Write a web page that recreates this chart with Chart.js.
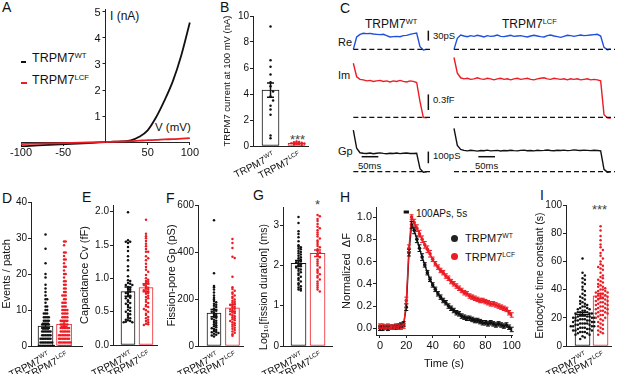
<!DOCTYPE html>
<html>
<head>
<meta charset="utf-8">
<title>TRPM7 figure</title>
<script src="https://cdn.jsdelivr.net/npm/chart.js@4.4.1/dist/chart.umd.min.js"></script>
<style>
  html, body { margin: 0; padding: 0; background: #fff; }
  #fig { position: relative; width: 617px; height: 374px; overflow: hidden;
         font-family: 'Liberation Sans', Arial, Helvetica, sans-serif; color: #111; }
  #fig canvas { position: absolute; }
  .t { position: absolute; white-space: nowrap; line-height: 1; }
  .t sup { font-size: 62%; line-height: 0; position: relative; top: -0.55em; vertical-align: baseline; }
  .p { font-size: 14px; }
  .mk { position: absolute; }
</style>
</head>
<body>
<div id="fig">
  <!-- panel letters -->
  <div class="t p" style="left:2px;top:0px">A</div>
  <div class="t p" style="left:220px;top:0px">B</div>
  <div class="t p" style="left:340px;top:1px">C</div>
  <div class="t p" style="left:2px;top:191px">D</div>
  <div class="t p" style="left:82px;top:190px">E</div>
  <div class="t p" style="left:166px;top:191px">F</div>
  <div class="t p" style="left:253px;top:188px">G</div>
  <div class="t p" style="left:340px;top:190px">H</div>
  <div class="t p" style="left:540px;top:188px">I</div>

  <!-- A labels and legend -->
  <div class="t" style="left:110px;top:10px;font-size:12px">I (nA)</div>
  <div class="t" style="left:155px;top:122px;font-size:11.5px">V (mV)</div>
  <div class="mk" style="left:21px;top:61px;width:5px;height:2px;background:#111"></div>
  <div class="t" style="left:32px;top:52px;font-size:12.5px">TRPM7<sup>WT</sup></div>
  <div class="mk" style="left:21px;top:82px;width:6px;height:2px;background:#ec1c24"></div>
  <div class="t" style="left:32px;top:74px;font-size:12.5px">TRPM7<sup>LCF</sup></div>

  <!-- B / G / I significance -->
  <div class="t" style="left:290px;top:133px;font-size:13px;color:#444">***</div>
  <div class="t" style="left:315px;top:198px;font-size:13px;color:#444">*</div>
  <div class="t" style="left:592px;top:203px;font-size:13px;color:#444">***</div>

  <!-- C labels -->
  <div class="t" style="left:365px;top:18px;font-size:12px">TRPM7<sup>WT</sup></div>
  <div class="t" style="left:502px;top:18px;font-size:12px">TRPM7<sup>LCF</sup></div>
  <div class="t" style="left:338px;top:37px;font-size:11px">Re</div>
  <div class="t" style="left:338px;top:70px;font-size:11px">Im</div>
  <div class="t" style="left:338px;top:146px;font-size:11px">Gp</div>
  <div class="t" style="left:433px;top:31px;font-size:9.5px">30pS</div>
  <div class="t" style="left:433px;top:95px;font-size:9.5px">0.3fF</div>
  <div class="t" style="left:433px;top:151px;font-size:9.5px">100pS</div>
  <div class="t" style="left:358px;top:161px;font-size:9.5px">50ms</div>
  <div class="t" style="left:475px;top:161px;font-size:9.5px">50ms</div>

  <!-- H legend -->
  <div class="t" style="left:416px;top:209px;font-size:10px">100APs, 5s</div>
  <div class="mk" style="left:451px;top:235px;width:7px;height:7px;border-radius:50%;background:#222"></div>
  <div class="t" style="left:465px;top:233px;font-size:11px">TRPM7<sup>WT</sup></div>
  <div class="mk" style="left:451px;top:253px;width:7px;height:7px;border-radius:50%;background:#ec1c24"></div>
  <div class="t" style="left:465px;top:252px;font-size:11px">TRPM7<sup>LCF</sup></div>
</div>

<script>
const FONT = "'Liberation Sans', Arial, Helvetica, sans-serif";
const INK = '#111111', RED = '#ec1c24', BLUE = '#1f4fdf', AXIS = '#222222';

// A: current-voltage relation (nA vs mV)
const aVolt = [-100, -80, -60, -40, -20, 0, 10, 20, 30, 40, 50, 60, 70, 80, 90, 100];
const aWT = [-0.17, -0.13, -0.1, -0.07, -0.04, 0, 0.01, 0.02, 0.06, 0.2, 0.45, 0.95, 1.6, 2.35, 3.35, 4.6];
const aLCF = [-0.08, -0.06, -0.05, -0.03, -0.02, 0, 0.01, 0.02, 0.03, 0.05, 0.07, 0.08, 0.1, 0.11, 0.13, 0.15];
const aXTicksNeg = [-100, -50];
const aXTicksPos = [50, 100];
const aYTicks = [1, 2, 3, 4, 5];

// B: current at 100 mV (nA)
const bWT = [9.2, 6.6, 6.1, 5.5, 4.9, 4.6, 4.2, 3.8, 3.5, 3.1, 2.8, 2.4, 0.8, 0.6];
const bLCF = [0.35, 0.3, 0.28, 0.25, 0.22, 0.2, 0.18, 0.15, 0.12, 0.1];
const bMean = [4.3, 0.2];
const bSem = [0.55, 0.04];
const bTicks = [0, 2, 4, 6, 8, 10];

// C: cell-attached traces, 10 ms per sample (Re, Gp in pS; Im in fF)
const C_DT = 10;
const reWT = [0, 37, 45, 48, 47, 48, 46, 45, 44, 45, 41, 37, 38, 39, 38, 41, 42, 45, 47, 49, 8, -2, 0];
const reLCF = [0, 33, 43, 40, 38, 41, 39, 42, 40, 37, 41, 39, 40, 43, 39, 38, 40, 42, 39, 40, 41, 39, 37, 40,
  42, 40, 38, 37, 41, 43, 40, 38, 36, 39, 42, 41, 39, 41, 43, 41, 42, 43, 44, 45, 40, 6, -1, 1];
const imWT = [1.04, 0.78, 0.73, 0.72, 0.7, 0.71, 0.69, 0.7, 0.71, 0.69, 0.7, 0.68, 0.7, 0.69, 0.71, 0.69,
  0.68, 0.7, 0.69, 0.67, 0.3, 0.0, -0.01];
const imLCF = [1.15, 0.85, 0.76, 0.74, 0.75, 0.73, 0.74, 0.76, 0.74, 0.73, 0.75, 0.74, 0.72, 0.74, 0.75, 0.73,
  0.74, 0.72, 0.74, 0.75, 0.73, 0.74, 0.75, 0.73, 0.72, 0.74, 0.75, 0.76, 0.74, 0.73, 0.75, 0.74, 0.73, 0.74,
  0.72, 0.74, 0.73, 0.74, 0.72, 0.73, 0.74, 0.72, 0.73, 0.72, 0.7, 0.05, -0.01, -0.02];
const gpWT = [355, 200, 162, 158, 156, 160, 154, 158, 161, 156, 153, 158, 156, 159, 154, 157, 160, 155, 156, 158, 25, -4, 0];
const gpLCF = [370, 225, 190, 182, 178, 183, 180, 176, 181, 179, 184, 178, 180, 182, 177, 181, 179, 183, 180, 178,
  182, 184, 179, 181, 178, 183, 180, 182, 185, 181, 179, 183, 181, 184, 180, 182, 186, 183, 181, 184,
  182, 180, 183, 181, 178, 20, -4, 0];
const cScaleBars = [30, 0.3, 100];   // pS, fF, pS
const cTimeBar = 50;                 // ms

// D: events per patch
const dWT = [31, 27, 23, 20, 19, 17, 16, 15, 14, 13, 13, 12, 11, 11, 10, 10, 9, 9, 9, 8, 8, 8, 8, 7, 7, 7, 7,
  6, 6, 6, 6, 6, 5, 5, 5, 5, 5, 4, 4, 4, 4, 4, 4, 3, 3, 3, 3, 3, 3, 2, 2, 2, 2, 2, 2, 2, 1, 1, 1, 1, 1, 1, 1, 1,
  0, 0, 0, 0, 0, 0, 0, 0, 0, 0];
const dLCF = [29, 29, 28, 26, 26, 25, 24, 24, 23, 22, 22, 21, 20, 20, 19, 18, 18, 17, 17, 16, 16, 15, 15, 14, 14,
  14, 13, 13, 12, 12, 12, 11, 11, 11, 10, 10, 10, 10, 9, 9, 9, 9, 8, 8, 8, 8, 7, 7, 7, 7, 7, 6, 6, 6, 6, 6,
  5, 5, 5, 5, 5, 5, 4, 4, 4, 4, 4, 4, 3, 3, 3, 3, 3, 3, 3, 2, 2, 2, 2, 2, 2, 2, 1, 1, 1, 1, 1, 1, 1, 1,
  0, 0, 0, 0, 0, 0, 0, 0];
const dMean = [5.5, 6.1];
const dSem = [0.8, 0.7];
const dTicks = [0, 10, 20, 30, 40];

// E: capacitance Cv (fF)
const eWT = [1.99, 1.57, 1.55, 1.55, 1.53, 1.47, 1.41, 1.33, 1.27, 1.18, 1.12, 1.03, 0.97, 0.96, 0.93, 0.92, 0.9,
  0.9, 0.87, 0.86, 0.84, 0.83, 0.8, 0.8, 0.78, 0.77, 0.74, 0.73, 0.71, 0.7, 0.67, 0.65, 0.63, 0.62, 0.6, 0.57,
  0.56, 0.53, 0.51, 0.5, 0.47, 0.46, 0.44, 0.41, 0.4, 0.38, 0.37, 0.36, 0.35, 0.34, 0.34];
const eLCF = [1.88, 1.67, 1.63, 1.6, 1.56, 1.52, 1.48, 1.44, 1.4, 1.4, 1.33, 1.3, 1.27, 1.22, 1.17, 1.13, 1.1,
  1.05, 1.0, 0.98, 0.96, 0.95, 0.93, 0.92, 0.9, 0.88, 0.86, 0.85, 0.83, 0.82, 0.8, 0.78, 0.77, 0.74, 0.72, 0.7,
  0.68, 0.65, 0.63, 0.6, 0.58, 0.57, 0.54, 0.52, 0.5, 0.47, 0.45, 0.42, 0.4, 0.38, 0.36, 0.34, 0.32, 0.31, 0.3];
const eMean = [0.8, 0.86];
const eSem = [0.07, 0.06];
const eTicks = [0, 0.5, 1, 1.5, 2];

// F: fission-pore conductance Gp (pS)
const fWT = [535, 310, 255, 250, 240, 228, 215, 205, 198, 192, 186, 180, 176, 171, 166, 160, 154, 150, 146, 141,
  136, 132, 128, 124, 120, 116, 112, 107, 102, 98, 93, 88, 84, 80, 76, 72, 68, 64, 60, 58, 55, 52, 48, 45, 40];
const fLCF = [455, 438, 417, 380, 375, 295, 250, 243, 235, 228, 222, 215, 210, 204, 198, 193, 188, 184, 180, 175,
  171, 167, 163, 159, 155, 151, 147, 143, 139, 135, 131, 127, 122, 118, 114, 110, 106, 101, 97, 92, 88, 83,
  78, 73, 68, 62, 56, 50, 44];
const fMean = [140, 162];
const fSem = [15, 15];
const fTicks = [0, 200, 400, 600];

// G: log10 fission duration (ms)
const gWT = [3.2, 3.05, 2.85, 2.78, 2.7, 2.6, 2.5, 2.47, 2.45, 2.42, 2.4, 2.36, 2.33, 2.3, 2.27, 2.24, 2.2, 2.18,
  2.15, 2.12, 2.1, 2.08, 2.05, 2.03, 2.0, 1.98, 1.95, 1.92, 1.9, 1.87, 1.83, 1.8, 1.76, 1.72, 1.68, 1.64, 1.6,
  1.56, 1.52, 1.48, 1.45, 1.42, 1.4, 1.38];
const gLCF = [3.25, 3.22, 3.15, 3.1, 3.03, 2.96, 2.92, 2.87, 2.82, 2.77, 2.72, 2.67, 2.62, 2.58, 2.53, 2.48, 2.45,
  2.4, 2.36, 2.32, 2.28, 2.24, 2.2, 2.15, 2.1, 2.05, 2.0, 1.95, 1.9, 1.86, 1.82, 1.78, 1.74, 1.7, 1.65, 1.6,
  1.55, 1.5, 1.45, 1.4, 1.35];
const gMean = [2.05, 2.3];
const gSem = [0.07, 0.08];
const gTicks = [0, 1, 2, 3];

// H: normalized fluorescence, 2 s per point
const hTime = [0, 2, 4, 6, 8, 10, 12, 14, 16, 18, 20, 22, 24, 26, 28, 30, 32, 34, 36, 38, 40, 42, 44, 46, 48, 50,
  52, 54, 56, 58, 60, 62, 64, 66, 68, 70, 72, 74, 76, 78, 80, 82, 84, 86, 88, 90, 92, 94, 96, 98, 100];
const hWT = [0.0, 0.0, 0.01, 0.0, 0.01, 0.01, 0.01, 0.02, 0.03, 0.04, 0.19, 0.68, 0.93, 0.88, 0.8, 0.72, 0.64,
  0.57, 0.5, 0.44, 0.39, 0.35, 0.31, 0.28, 0.25, 0.23, 0.2, 0.18, 0.16, 0.14, 0.13, 0.11, 0.1, 0.09, 0.09, 0.08,
  0.07, 0.07, 0.06, 0.05, 0.05, 0.04, 0.05, 0.04, 0.03, 0.04, 0.03, 0.02, 0.03, 0.01, -0.01];
const hLCF = [0.02, 0.02, 0.01, 0.02, 0.01, 0.01, 0.02, 0.01, 0.01, 0.02, 0.25, 0.72, 1.0, 0.95, 0.9, 0.85, 0.8,
  0.75, 0.71, 0.67, 0.62, 0.58, 0.55, 0.52, 0.5, 0.47, 0.45, 0.42, 0.4, 0.38, 0.36, 0.34, 0.32, 0.31, 0.29,
  0.28, 0.27, 0.26, 0.25, 0.25, 0.24, 0.23, 0.22, 0.22, 0.21, 0.2, 0.19, 0.18, 0.17, 0.14, 0.12];
const hWTErr = [0.02, 0.02, 0.02, 0.02, 0.02, 0.02, 0.02, 0.02, 0.02, 0.02, 0.03, 0.03, 0.03, 0.03, 0.03, 0.03,
  0.03, 0.02, 0.02, 0.02, 0.02, 0.02, 0.02, 0.02, 0.02, 0.02, 0.02, 0.02, 0.02, 0.02, 0.02, 0.02, 0.02, 0.02,
  0.02, 0.02, 0.02, 0.02, 0.02, 0.02, 0.02, 0.02, 0.02, 0.02, 0.02, 0.02, 0.02, 0.02, 0.02, 0.02, 0.02];
const hLCFErr = [0.02, 0.02, 0.02, 0.02, 0.02, 0.02, 0.02, 0.02, 0.02, 0.02, 0.03, 0.03, 0.02, 0.03, 0.03, 0.03,
  0.03, 0.03, 0.03, 0.03, 0.02, 0.02, 0.02, 0.02, 0.02, 0.02, 0.02, 0.02, 0.02, 0.02, 0.02, 0.02, 0.02, 0.02,
  0.02, 0.02, 0.02, 0.02, 0.02, 0.02, 0.02, 0.02, 0.02, 0.02, 0.02, 0.02, 0.02, 0.02, 0.02, 0.02, 0.02];
const hStim = [18, 22];
const hXTicks = [0, 20, 40, 60, 80, 100];
const hYTicks = [0, 0.2, 0.4, 0.6, 0.8, 1.0];

// I: endocytic time constant (s)
const iWT = [62, 52, 50, 48, 47, 45, 44, 42, 40, 39, 37, 36, 35, 34, 33, 32, 31, 30, 30, 29, 28, 28, 27, 27, 26,
  26, 25, 25, 24, 24, 24, 23, 23, 23, 22, 22, 22, 21, 21, 21, 20, 20, 20, 20, 19, 19, 19, 18, 18, 18, 18, 17,
  17, 17, 16, 16, 16, 16, 15, 15, 15, 14, 14, 14, 14, 13, 13, 13, 12, 12, 12, 11, 11, 11, 10, 10, 10, 9, 9, 8,
  8, 7, 6, 5];
const iLCF = [85, 82, 78, 75, 72, 70, 68, 66, 64, 62, 60, 58, 57, 56, 55, 54, 52, 50, 49, 48, 47, 46, 45, 44, 43,
  42, 42, 41, 40, 40, 39, 39, 38, 38, 37, 37, 36, 36, 35, 35, 34, 34, 33, 33, 32, 32, 31, 31, 30, 30, 29, 29,
  28, 28, 27, 27, 26, 26, 25, 25, 24, 24, 23, 23, 22, 22, 21, 20, 20, 19, 18, 17, 16, 15, 14, 13, 12, 11, 10,
  9, 8];
const iMean = [22.5, 35.5];
const iSem = [1.3, 1.8];
const iTicks = [0, 20, 40, 60, 80, 100];

const groupLabels = [['TRPM7', 'WT'], ['TRPM7', 'LCF']];

Chart.defaults.font.family = FONT;
Chart.defaults.color = INK;
Chart.defaults.animation = false;
Chart.defaults.events = [];
Chart.defaults.plugins.legend.display = false;
Chart.defaults.plugins.tooltip.enabled = false;

// vertical mean +/- error bars for any dataset carrying an `err` array
const errorBars = {
  id: 'errorBars',
  afterDatasetsDraw(chart) {
    const ctx = chart.ctx;
    chart.data.datasets.forEach((ds, i) => {
      if (!ds.err) return;
      const meta = chart.getDatasetMeta(i);
      const ys = chart.scales[meta.yAxisID];
      ctx.save();
      ctx.lineWidth = ds.errWidth || 1;
      meta.data.forEach((el, j) => {
        const v = ds.data[j].y, e = ds.err[j], c = ds.errCap || 3;
        const y1 = ys.getPixelForValue(v - e), y2 = ys.getPixelForValue(v + e);
        ctx.strokeStyle = Array.isArray(ds.errColor) ? ds.errColor[j] : ds.errColor;
        ctx.beginPath();
        ctx.moveTo(el.x, y1); ctx.lineTo(el.x, y2);
        ctx.moveTo(el.x - c, y1); ctx.lineTo(el.x + c, y1);
        ctx.moveTo(el.x - c, y2); ctx.lineTo(el.x + c, y2);
        ctx.stroke();
      });
      ctx.restore();
    });
  }
};

// slanted group names with superscript under the x axis
const rotLabels = {
  id: 'rotLabels',
  afterDraw(chart, args, o) {
    if (!o.items) return;
    const ctx = chart.ctx, xs = chart.scales.x;
    o.items.forEach((it, i) => {
      ctx.save();
      ctx.translate(xs.getPixelForValue(i + 1) + o.dx, xs.top + o.dy);
      ctx.rotate(-o.angle * Math.PI / 180);
      ctx.fillStyle = INK;
      ctx.textAlign = 'right';
      ctx.textBaseline = 'alphabetic';
      ctx.font = (o.size * 0.62) + 'px ' + FONT;
      const sw = ctx.measureText(it[1]).width;
      ctx.fillText(it[1], 0, -o.size * 0.42);
      ctx.font = o.size + 'px ' + FONT;
      ctx.fillText(it[0], -sw - 0.5, 0);
      ctx.restore();
    });
  }
};

// free-standing vertical axis title (used where it is not centred on the axis)
const sideTitle = {
  id: 'sideTitle',
  afterDraw(chart, args, o) {
    if (!o.text) return;
    const ctx = chart.ctx;
    ctx.save();
    ctx.translate(o.x, o.y);
    ctx.rotate(-Math.PI / 2);
    ctx.font = o.size + 'px ' + FONT;
    ctx.fillStyle = INK;
    ctx.textAlign = 'center';
    ctx.textBaseline = 'middle';
    ctx.fillText(o.text, 0, 0);
    ctx.restore();
  }
};

function makeCanvas(l, t, w, h) {
  const c = document.createElement('canvas');
  c.width = w; c.height = h;
  c.style.left = l + 'px'; c.style.top = t + 'px';
  c.style.width = w + 'px'; c.style.height = h + 'px';
  document.getElementById('fig').appendChild(c);
  return c;
}

function pairs(xs, ys) { return xs.map((x, i) => ({x, y: ys[i]})); }

// simple beeswarm: points in the same value bin are spread left/right of the group centre
function swarm(vals, center, bin, step) {
  const rows = {};
  return vals.map(v => {
    const k = Math.round(v / bin);
    const n = rows[k] = (rows[k] || 0) + 1;
    const off = n === 1 ? 0 : (n % 2 ? -1 : 1) * Math.floor(n / 2) * step;
    return {x: center + off, y: v};
  });
}

function yAxis(min, max, ticks, fmt, size) {
  return {
    type: 'linear', min, max, bounds: 'data',
    afterBuildTicks: s => { s.ticks = ticks.map(v => ({value: v})); },
    ticks: {font: {size}, padding: 1, color: INK, callback: fmt, autoSkip: false},
    grid: {drawOnChartArea: false, tickLength: 3, color: AXIS},
    border: {color: AXIS, width: 1}
  };
}

// ---------- A : two halves joined at V = 0 so the current axis sits at 0 mV ----------
const aLines = keep => [
  {data: pairs(aVolt, aWT).filter(p => keep(p.x)), borderColor: INK, borderWidth: 1.8, order: 2},
  {data: pairs(aVolt, aLCF).filter(p => keep(p.x)), borderColor: RED, borderWidth: 1.8, order: 1}
];
// negative voltages: x axis drawn through I = 0, no current axis
const aNegX = Object.assign(yAxis(-100, 0, aXTicksNeg, v => String(v), 11), {position: {y: 0}});
new Chart(makeCanvas(0, 0, 106, 160), {
  type: 'line',
  data: {datasets: aLines(v => v <= 0)},
  options: {
    responsive: false, devicePixelRatio: 1,
    layout: {padding: {left: 21, right: 0.5, top: 9.4, bottom: 12.8}},
    elements: {point: {radius: 0}, line: {cubicInterpolationMode: 'monotone'}},
    scales: {x: aNegX, y: {type: 'linear', display: false, min: -0.2, max: 5.1}}
  }
});
// positive voltages: ordinary left current axis starting at I = 0
const A_POS_LEFT = 85;
const aPosX = yAxis(0, 100, aXTicksPos, v => String(v), 11);
aPosX.afterFit = s => { s.height = 18; };
const aPosY = yAxis(0, 5.1, aYTicks, v => String(v), 11);
aPosY.ticks.display = false;
aPosY.afterFit = s => { s.width = 20.5; };
const aPos = new Chart(makeCanvas(A_POS_LEFT, 0, 115, 160), {
  type: 'line',
  data: {datasets: aLines(v => v >= 0).map(d => Object.assign(d, {clip: false}))},
  options: {
    responsive: false, devicePixelRatio: 1,
    layout: {padding: {left: 0, right: 10, top: 9.4, bottom: 0}},
    elements: {point: {radius: 0}, line: {cubicInterpolationMode: 'monotone'}},
    scales: {x: aPosX, y: aPosY}
  }
});
// current-axis tick labels placed from the chart's own y scale
(() => {
  const ys = aPos.scales.y;
  aYTicks.forEach(v => {
    const d = document.createElement('div');
    d.className = 't';
    d.textContent = String(v);
    d.style.fontSize = '11px';
    d.style.width = '20px';
    d.style.textAlign = 'right';
    d.style.left = (A_POS_LEFT + ys.right - 5 - 20) + 'px';
    d.style.top = (ys.getPixelForValue(v) - 5.4) + 'px';
    document.getElementById('fig').appendChild(d);
  });
})();

// ---------- B, D, E, F, G, I : bar + dots ----------
function barPanel(c) {
  const [l, t, w, h] = c.box, [pl, pt, pr, pb] = c.plot;
  const lh = c.titleSize * 1.2;
  const y = yAxis(c.y[0], c.y[1], c.ticks, c.fmt, c.tickSize || 10);
  y.afterFit = s => { s.width = pl - l; };
  const free = c.titleY !== undefined;
  if (!free) {
    y.title = {display: true, text: c.title, font: {size: c.titleSize}, color: INK,
               padding: {top: c.titleX - lh / 2 - l, bottom: 0}};
  }
  new Chart(makeCanvas(l, t, w, h), {
    type: 'bar',
    data: {datasets: [
      {type: 'bar', data: c.mean.map((m, i) => ({x: i + 1, y: m})), backgroundColor: '#ffffff',
       borderColor: [INK, RED], borderWidth: 1, borderSkipped: false, barThickness: c.barW,
       err: c.sem, errColor: [INK, RED], errWidth: 1.5, errCap: 3.5, order: 3},
      {type: 'scatter', data: swarm(c.wt, 1, c.bin, c.step), backgroundColor: INK, borderWidth: 0,
       pointRadius: 1.25, order: 2},
      {type: 'scatter', data: swarm(c.lcf, 2, c.bin, c.step), backgroundColor: RED, borderWidth: 0,
       pointRadius: 1.25, order: 1}
    ]},
    options: {
      responsive: false, devicePixelRatio: 1,
      layout: {padding: {left: 0, top: pt - t, right: l + w - pr, bottom: 0}},
      scales: {
        x: {type: 'linear', min: c.x[0], max: c.x[1], bounds: 'data', offset: false,
            ticks: {display: false}, grid: {display: false}, border: {color: AXIS, width: 1},
            afterFit: s => { s.height = t + h - pb; }},
        y
      },
      plugins: {
        rotLabels: {items: groupLabels, size: c.labelSize || 10, angle: 27, dx: 5, dy: 12},
        sideTitle: free ? {text: c.title, x: c.titleX - l, y: c.titleY - t, size: c.titleSize} : {}
      }
    },
    plugins: [errorBars, rotLabels, sideTitle]
  });
}

const fmt0 = v => String(v), fmt1 = v => v.toFixed(1);

barPanel({box: [215, 4, 98, 178], plot: [253, 16, 308, 146], x: [0.327, 2.44], y: [0, 10], ticks: bTicks,
  fmt: fmt0, title: 'TRPM7 current at 100 mV (nA)', titleX: 227, titleSize: 9.5, barW: 17,
  mean: bMean, sem: bSem, wt: bWT, lcf: bLCF, bin: 0.4, step: 0.1});
barPanel({box: [0, 190, 86, 184], plot: [31, 202, 82, 346], x: [0.216, 2.97], y: [0, 40], ticks: dTicks,
  fmt: fmt0, title: 'Events / patch', titleX: 7, titleSize: 11, barW: 15,
  mean: dMean, sem: dSem, wt: dWT, lcf: dLCF, bin: 1, step: 0.09});
barPanel({box: [76, 193, 86, 181], plot: [113, 205, 157, 345], x: [0.167, 2.61], y: [0, 2.1], ticks: eTicks,
  fmt: fmt1, title: 'Capacitance Cv (fF)', titleX: 85, titleSize: 11, barW: 14,
  mean: eMean, sem: eSem, wt: eWT, lcf: eLCF, bin: 0.04, step: 0.12});
barPanel({box: [160, 193, 87, 181], plot: [198, 205, 243, 346], x: [0.135, 2.57], y: [0, 600], ticks: fTicks,
  fmt: fmt0, title: 'Fission-pore Gp (pS)', titleX: 172, titleSize: 11, barW: 14,
  mean: fMean, sem: fSem, wt: fWT, lcf: fLCF, bin: 10, step: 0.12});
barPanel({box: [254, 195, 82, 179], plot: [283, 207, 332, 346], x: [0.184, 2.76], y: [0, 3.45], ticks: gTicks,
  fmt: fmt0, title: 'Log\u2081\u2080[fission duration] (ms)', titleX: 264, titleY: 287, titleSize: 10.5, barW: 15,
  mean: gMean, sem: gSem, wt: gWT, lcf: gLCF, bin: 0.06, step: 0.12});
barPanel({box: [530, 195, 87, 179], plot: [566, 205, 611, 346], x: [0.083, 2.58], y: [0, 100], ticks: iTicks,
  fmt: fmt0, title: 'Endocytic time constant (s)', titleX: 540, titleSize: 10.5, barW: 15,
  mean: iMean, sem: iSem, wt: iWT, lcf: iLCF, bin: 3, step: 0.13});

// ---------- C : traces, one chart per row ----------
const C_XMAX = 801, C_WT0 = 10, C_LCF0 = 312, C_WT_END = 240, C_LCF_END = 795, C_BARX = 235;
const cRows = [
  {wt: reWT, lcf: reLCF, color: BLUE, range: [-20, 76], barLo: 26, box: [350, 24, 267, 32]},
  {wt: imWT, lcf: imLCF, color: RED, range: [-0.11, 1.179], barLo: 0.14, box: [350, 56, 267, 67]},
  {wt: gpWT, lcf: gpLCF, color: INK, range: [-71, 416], barLo: 72, box: [350, 123, 267, 57],
   timeBar: {y: 128, starts: [35, 385]}}
];
cRows.forEach((r, k) => {
  const trace = (vals, t0) => vals.map((v, i) => ({x: t0 + i * C_DT, y: v}));
  const sets = [
    {data: [{x: C_WT0, y: 0}, {x: C_WT_END, y: 0}], borderColor: INK, borderWidth: 1.3, borderDash: [5, 3]},
    {data: [{x: C_LCF0, y: 0}, {x: C_LCF_END, y: 0}], borderColor: INK, borderWidth: 1.3, borderDash: [5, 3]},
    {data: trace(r.wt, C_WT0), borderColor: r.color, borderWidth: 1.4},
    {data: trace(r.lcf, C_LCF0), borderColor: r.color, borderWidth: 1.4},
    {data: [{x: C_BARX, y: r.barLo}, {x: C_BARX, y: r.barLo + cScaleBars[k]}], borderColor: INK, borderWidth: 1.5}
  ];
  if (r.timeBar) {
    r.timeBar.starts.forEach(s => sets.push({data: [{x: s, y: r.timeBar.y}, {x: s + cTimeBar, y: r.timeBar.y}],
      borderColor: INK, borderWidth: 1.5}));
  }
  const [l, t, w, h] = r.box;
  new Chart(makeCanvas(l, t, w, h), {
    type: 'line',
    data: {datasets: sets},
    options: {
      responsive: false, devicePixelRatio: 1,
      layout: {padding: 0},
      elements: {point: {radius: 0}, line: {tension: 0}},
      datasets: {line: {clip: 3}},
      scales: {
        x: {type: 'linear', display: false, min: 0, max: C_XMAX},
        y: {type: 'linear', display: false, min: r.range[0], max: r.range[1]}
      }
    }
  });
});

// ---------- H : fluorescence time course ----------
const H_STIM_Y = 1.045;
const hx = yAxis(-3, 100.2, hXTicks, fmt0, 11);
hx.afterFit = s => { s.height = 374 - 335; };
hx.title = {display: true, text: 'Time (s)', font: {size: 11}, color: INK, padding: {top: 0, bottom: 3.4}};
const hy = yAxis(-0.06, 1.09, hYTicks, fmt1, 11);
hy.afterFit = s => { s.width = 376 - 335; };
hy.title = {display: true, text: 'Normalized  \u0394F', font: {size: 11}, color: INK, padding: {top: 5.4, bottom: 0}};
new Chart(makeCanvas(335, 197, 195, 177), {
  type: 'line',
  data: {datasets: [
    {data: pairs(hTime, hWT), err: hWTErr, errColor: INK, errCap: 2, borderColor: INK, backgroundColor: INK,
     borderWidth: 1.4, pointRadius: 1.8, pointBorderWidth: 0, order: 2},
    {data: pairs(hTime, hLCF), err: hLCFErr, errColor: RED, errCap: 2, borderColor: RED, backgroundColor: RED,
     borderWidth: 1.4, pointRadius: 1.8, pointBorderWidth: 0, order: 1},
    {data: hStim.map(tm => ({x: tm, y: H_STIM_Y})), borderColor: INK, borderWidth: 3, pointRadius: 0, order: 0}
  ]},
  options: {
    responsive: false, devicePixelRatio: 1,
    layout: {padding: {left: 0, top: 10, right: 530 - 512, bottom: 0}},
    scales: {x: hx, y: hy}
  },
  plugins: [errorBars]
});
</script>
</body>
</html>
